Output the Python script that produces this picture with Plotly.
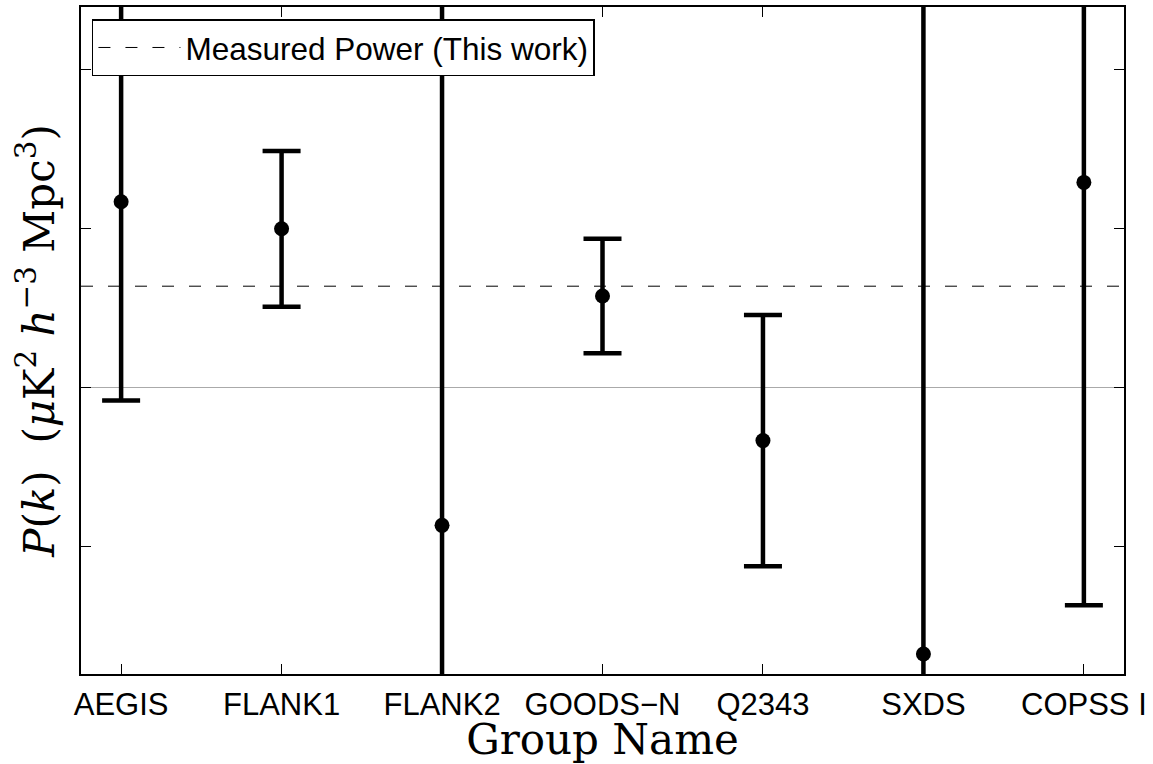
import plotly.graph_objects as go

groups = ["AEGIS", "FLANK1", "FLANK2", "GOODS\u2212N", "Q2343", "SXDS", "COPSS I"]
power = [1.17, 1.00, -0.865, 0.577, -0.332, -1.674, 1.292]
err = [1.25, 0.49, 4.0, 0.36, 0.79, 5.0, 2.66]
measured_power = 0.639

xpos = list(range(1, len(groups) + 1))

SANS = "Liberation Sans, Arial, Helvetica, sans-serif"
SERIF = "DejaVu Serif, Liberation Serif, serif"

fig = go.Figure()

fig.add_trace(go.Scatter(
    x=[0.75, 7.25], y=[measured_power, measured_power],
    mode="lines", line=dict(color="black", width=1, dash="12px,15px"),
    name="Measured Power (This work)", showlegend=True,
))

fig.add_trace(go.Scatter(
    x=xpos, y=power, mode="markers",
    marker=dict(color="black", size=15),
    error_y=dict(type="data", array=err, symmetric=True, color="black",
                 thickness=4.5, width=19),
    showlegend=False,
))

fig.update_layout(
    width=1153, height=764,
    margin=dict(l=81, r=29, t=5, b=90),
    paper_bgcolor="white", plot_bgcolor="white",
    font=dict(family=SANS, color="black"),
    legend=dict(x=0.0105, y=0.982, xanchor="left", yanchor="top",
                bordercolor="black", borderwidth=1.5, bgcolor="white",
                font=dict(size=31.5, family=SANS),
                itemwidth=82, tracegroupgap=0),
    xaxis=dict(
        range=[0.75, 7.25], tickmode="array", tickvals=xpos, ticktext=groups,
        ticks="inside", ticklen=10, tickcolor="black", tickwidth=1,
        showline=True, linecolor="black", linewidth=1.5, mirror="ticks",
        showgrid=False, zeroline=False,
        tickfont=dict(size=31, family=SANS),
        ticklabelstandoff=2,
        title=dict(text="Group Name", standoff=2,
                   font=dict(size=42, family=SERIF)),
    ),
    yaxis=dict(
        range=[-1.80, 2.395], tickvals=[-1, 0, 1, 2], showticklabels=False,
        ticks="inside", ticklen=10, tickcolor="black", tickwidth=1,
        showline=True, linecolor="black", linewidth=1.5, mirror="ticks",
        showgrid=False, zeroline=True, zerolinecolor="#aaaaaa", zerolinewidth=1,
        title=dict(text="<i>P</i>(<i>k</i>)  (<i>\u03bc</i>K<sup>2</sup> <i>h</i><sup>\u22123</sup> Mpc<sup>3</sup>)",
                   standoff=12,
                   font=dict(size=42, family=SERIF)),
    ),
)

fig.write_html("out.html")
